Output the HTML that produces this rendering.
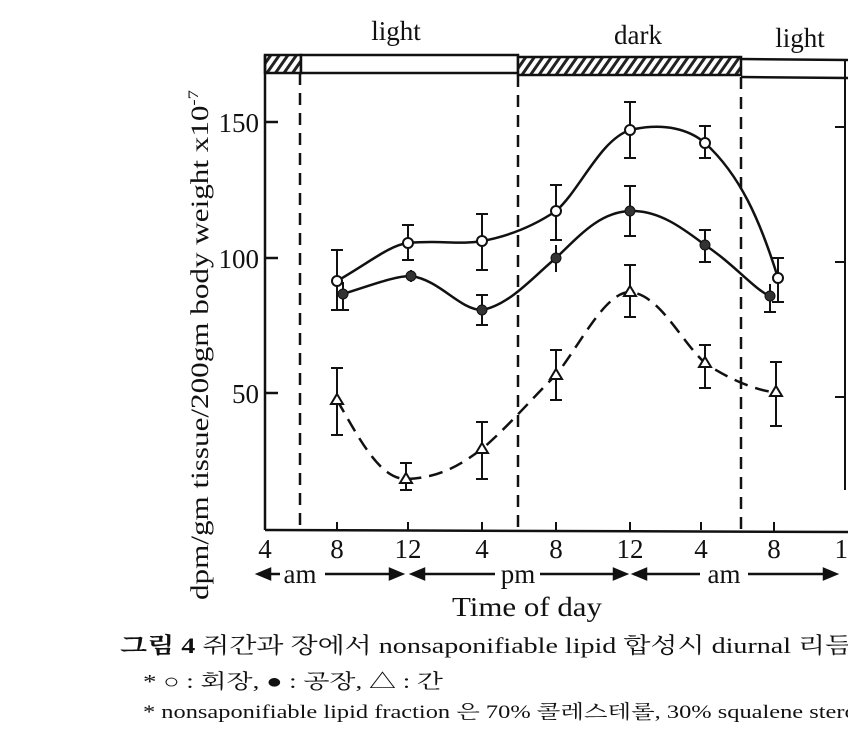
<!DOCTYPE html>
<html><head><meta charset="utf-8"><style>
body{margin:0;background:#fff;}
svg{display:block;font-family:"Liberation Serif","Noto Serif CJK SC","Noto Sans CJK KR",serif;}
</style></head><body>
<svg width="848" height="732" viewBox="0 0 848 732">
<defs>
<pattern id="h" width="7" height="7" patternUnits="userSpaceOnUse" patternTransform="rotate(35)">
<rect width="7" height="7" fill="#fff"/><rect width="3" height="7" fill="#222"/></pattern>
</defs>
<g stroke="#111" fill="none" stroke-width="2.5">
<rect x="265" y="55" width="36" height="18" fill="url(#h)"/>
<rect x="301" y="55" width="217" height="18" fill="#fff"/>
<rect x="518" y="57" width="223" height="18" fill="url(#h)"/>
<polyline points="741,59 848,60"/><polyline points="741,77 848,78"/>
<line x1="265" y1="55" x2="265" y2="530"/>
<line x1="265" y1="530" x2="848" y2="532"/>
<line x1="845" y1="60" x2="845" y2="490" stroke-width="2"/>
<line x1="835" y1="127" x2="845" y2="127" stroke-width="2"/>
<line x1="835" y1="262" x2="845" y2="262" stroke-width="2"/>
<line x1="835" y1="397" x2="845" y2="397" stroke-width="2"/>
<line x1="265" y1="122" x2="278" y2="122"/>
<line x1="265" y1="258" x2="278" y2="258"/>
<line x1="265" y1="393" x2="278" y2="393"/>
<g stroke-dasharray="12,8">
<line x1="300" y1="73" x2="300" y2="530"/>
<line x1="518" y1="75" x2="518" y2="530"/>
<line x1="741" y1="77" x2="741" y2="530"/>
</g>
<g stroke-width="2">
<line x1="337" y1="522" x2="337" y2="530"/><line x1="408" y1="522" x2="408" y2="530"/>
<line x1="482" y1="522" x2="482" y2="530"/><line x1="556" y1="522" x2="556" y2="530"/>
<line x1="630" y1="522" x2="630" y2="530"/><line x1="701" y1="522" x2="701" y2="530"/>
<line x1="774" y1="522" x2="774" y2="531"/>
</g>
<path d="M337,281 C370,262 390,245 408,243 C440,240 460,245 482,241 C510,236 535,225 556,211 C580,190 600,140 630,130 C665,122 690,130 705,143 C740,175 760,220 778,278"/>
<path d="M343,294 C375,284 395,276 411,276 C440,280 460,310 482,310 C510,305 535,275 556,258 C580,235 600,212 630,211 C660,210 685,230 705,245 C735,265 755,290 770,296"/>
<path stroke-dasharray="14,8" d="M337,400 C360,440 380,479 406,479 C440,478 460,465 482,449 C510,425 535,395 556,375 C580,345 605,292 630,292 C660,295 680,340 705,363 C730,380 760,392 776,392"/>
<g stroke-width="2">
<path d="M337,250V310M331,250h12M331,310h12"/>
<path d="M408,225V260M402,225h12M402,260h12"/>
<path d="M482,214V270M476,214h12M476,270h12"/>
<path d="M556,185V240M550,185h12M550,240h12"/>
<path d="M630,102V158M624,102h12M624,158h12"/>
<path d="M705,126V158M699,126h12M699,158h12"/>
<path d="M778,258V302M772,258h12M772,302h12"/>
<path d="M343,282V310M337,310h12"/>
<path d="M411,270V282"/>
<path d="M482,295V325M476,295h12M476,325h12"/>
<path d="M556,245V272"/>
<path d="M630,186V236M624,186h12M624,236h12"/>
<path d="M705,230V262M699,230h12M699,262h12"/>
<path d="M770,284V312M764,312h12"/>
<path d="M337,368V435M331,368h12M331,435h12"/>
<path d="M406,463V490M400,463h12M400,490h12"/>
<path d="M482,422V479M476,422h12M476,479h12"/>
<path d="M556,350V400M550,350h12M550,400h12"/>
<path d="M630,265V317M624,265h12M624,317h12"/>
<path d="M705,345V388M699,345h12M699,388h12"/>
<path d="M776,362V426M770,362h12M770,426h12"/>
</g>
</g>
<g stroke="#111" stroke-width="2" fill="#fff">
<circle cx="337" cy="281" r="5"/><circle cx="408" cy="243" r="5"/><circle cx="482" cy="241" r="5"/>
<circle cx="556" cy="211" r="5"/><circle cx="630" cy="130" r="5"/><circle cx="705" cy="143" r="5"/><circle cx="778" cy="278" r="5"/>
</g>
<g fill="#333" stroke="#111">
<circle cx="343" cy="294" r="5"/><circle cx="411" cy="276" r="5"/><circle cx="482" cy="310" r="5"/>
<circle cx="556" cy="258" r="5"/><circle cx="630" cy="211" r="5"/><circle cx="705" cy="245" r="5"/><circle cx="770" cy="296" r="5"/>
</g>
<g fill="#fff" stroke="#111" stroke-width="2">
<path d="M337,394l6,10h-12z"/><path d="M406,473l6,10h-12z"/><path d="M482,443l6,10h-12z"/>
<path d="M556,369l6,10h-12z"/><path d="M630,286l6,10h-12z"/><path d="M705,357l6,10h-12z"/><path d="M776,386l6,10h-12z"/>
</g>
<g fill="#111" font-size="27">
<text x="396" y="40" text-anchor="middle">light</text>
<text x="638" y="44" text-anchor="middle">dark</text>
<text x="800" y="47" text-anchor="middle">light</text>
<text x="259" y="132" text-anchor="end">150</text>
<text x="259" y="268" text-anchor="end">100</text>
<text x="259" y="403" text-anchor="end">50</text>
<g text-anchor="middle">
<text x="265" y="558">4</text><text x="337" y="558">8</text><text x="408" y="558">12</text>
<text x="482" y="558">4</text><text x="556" y="558">8</text><text x="630" y="558">12</text>
<text x="701" y="558">4</text><text x="774" y="558">8</text><text x="848" y="558">12</text>
<text x="300" y="583">am</text><text x="518" y="583">pm</text><text x="724" y="583">am</text>
</g>
<text x="452" y="616" textLength="150" lengthAdjust="spacingAndGlyphs">Time of day</text>
<text transform="translate(208,600) rotate(-90)" font-size="25" textLength="510" lengthAdjust="spacingAndGlyphs">dpm/gm tissue/200gm  body  weight x10<tspan font-size="15" dy="-10">-7</tspan></text>
</g>
<g stroke="#111" stroke-width="2.5" fill="#111">
<line x1="262" y1="574" x2="280" y2="574"/><line x1="325" y1="574" x2="398" y2="574"/>
<path d="M258,574l12,-5v10z"/><path d="M402,574l-12,-5v10z"/>
<line x1="418" y1="574" x2="495" y2="574"/><line x1="540" y1="574" x2="620" y2="574"/>
<path d="M412,574l12,-5v10z"/><path d="M626,574l-12,-5v10z"/>
<line x1="640" y1="574" x2="700" y2="574"/><line x1="748" y1="574" x2="830" y2="574"/>
<path d="M634,574l12,-5v10z"/><path d="M836,574l-12,-5v10z"/>
</g>
<g fill="#111">
<text x="120" y="653" font-size="22" textLength="745" lengthAdjust="spacingAndGlyphs"><tspan font-weight="bold">그림 4</tspan>  쥐간과 장에서 nonsaponifiable lipid 합성시 diurnal 리듬<tspan font-size="12" dy="-7">6)</tspan></text>
<text x="143" y="688" font-size="20" textLength="300" lengthAdjust="spacingAndGlyphs">* ○ : 회장,  ● : 공장,  △ : 간</text>
<text x="143" y="718" font-size="19" textLength="730" lengthAdjust="spacingAndGlyphs">* nonsaponifiable lipid fraction 은 70% 콜레스테롤,  30% squalene sterols</text>
</g>
</svg>
</body></html>
